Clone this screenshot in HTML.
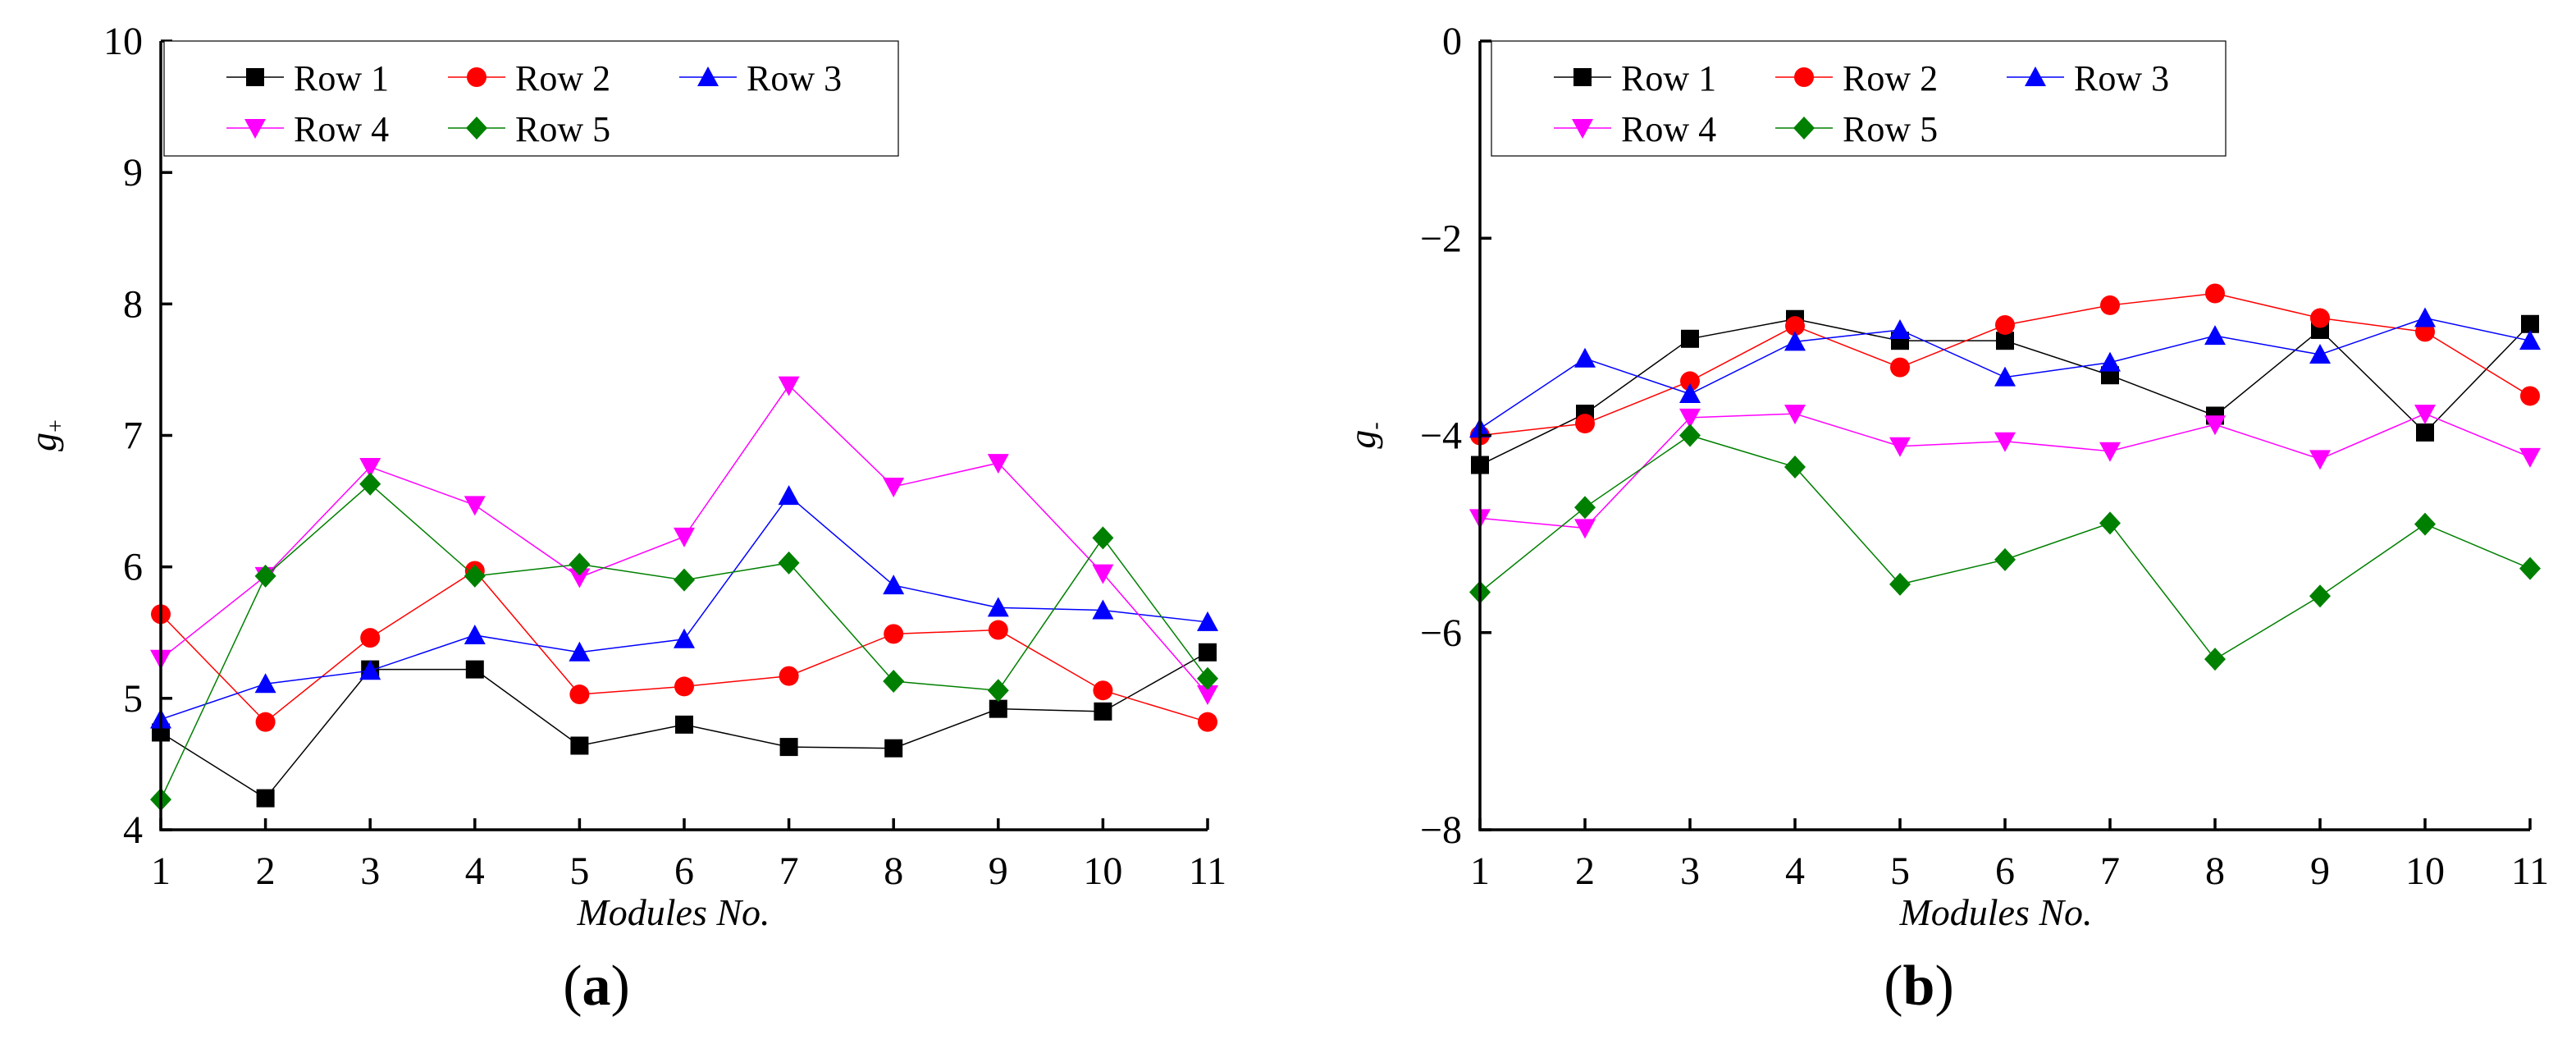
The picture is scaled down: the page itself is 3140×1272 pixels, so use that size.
<!DOCTYPE html>
<html><head><meta charset="utf-8"><style>
body{margin:0;background:#fff;overflow:hidden;}
svg{display:block;font-family:"Liberation Serif",serif;}
</style></head><body>
<svg id="chart" width="3140" height="1272" viewBox="0 0 3140 1272" xmlns="http://www.w3.org/2000/svg"></svg>
<script>
const categories=[1,2,3,4,5,6,7,8,9,10,11];
const seriesNames=["Row 1","Row 2","Row 3","Row 4","Row 5"];
const colors=["#000000","#ff0000","#0000ff","#ff00ff","#008000"];
const markers=["square","circle","triangle","invtriangle","diamond"];
const gPlusRow1=[4.74,4.24,5.22,5.22,4.64,4.80,4.63,4.62,4.92,4.90,5.35];
const gPlusRow2=[5.64,4.82,5.46,5.97,5.03,5.09,5.17,5.49,5.52,5.06,4.82];
const gPlusRow3=[4.84,5.11,5.21,5.48,5.35,5.45,6.54,5.86,5.69,5.67,5.58];
const gPlusRow4=[5.30,5.93,6.76,6.47,5.92,6.23,7.38,6.61,6.79,5.95,5.03];
const gPlusRow5=[4.23,5.93,6.63,5.93,6.02,5.90,6.03,5.13,5.06,6.22,5.15];
const gMinusRow1=[-4.30,-3.78,-3.02,-2.82,-3.04,-3.04,-3.39,-3.80,-2.93,-3.97,-2.87];
const gMinusRow2=[-4.00,-3.88,-3.45,-2.89,-3.31,-2.88,-2.68,-2.56,-2.81,-2.95,-3.60];
const gMinusRow3=[-3.93,-3.22,-3.58,-3.05,-2.93,-3.41,-3.26,-2.99,-3.18,-2.81,-3.04];
const gMinusRow4=[-4.84,-4.94,-3.82,-3.78,-4.11,-4.06,-4.16,-3.89,-4.24,-3.78,-4.22];
const gMinusRow5=[-5.59,-4.73,-4.00,-4.32,-5.51,-5.26,-4.89,-6.27,-5.63,-4.90,-5.35];
const yTicksA=[4,5,6,7,8,9,10];
const yTicksB=[-8,-6,-4,-2,0];

const svg=document.getElementById('chart');
const NS="http://www.w3.org/2000/svg";
function el(tag,attrs,parent){const e=document.createElementNS(NS,tag);for(const k in attrs)e.setAttribute(k,attrs[k]);(parent||svg).appendChild(e);return e;}

function marker(g,type,cx,cy,color){
  const s=11;let m;
  if(type==="square")m=el('rect',{x:cx-s,y:cy-s,width:2*s,height:2*s,fill:color},g);
  else if(type==="circle")m=el('circle',{cx:cx,cy:cy,r:s+1,fill:color},g);
  else if(type==="triangle")m=el('polygon',{points:`${cx},${cy-s-2} ${cx+s+2},${cy+s} ${cx-s-2},${cy+s}`,fill:color},g);
  else if(type==="invtriangle")m=el('polygon',{points:`${cx},${cy+s+2} ${cx+s+2},${cy-s} ${cx-s-2},${cy-s}`,fill:color},g);
  else m=el('polygon',{points:`${cx},${cy-s-3} ${cx+s+2},${cy} ${cx},${cy+s+3} ${cx-s-2},${cy}`,fill:color},g);
  
  
}

function panel(cfg){
  const g=el('g',{});
  
  
  const {x0,x1,y0,y1,ymin,ymax}=cfg;
  const xs=c=>x0+(c-1)*(x1-x0)/(categories.length-1);
  const ys=v=>y1-(v-ymin)*(y1-y0)/(ymax-ymin);
  cfg.data.forEach((arr,i)=>{
    const sg=el('g',{},g);
    
    
    const pts=arr.map((v,j)=>xs(categories[j])+','+ys(v)).join(' ');
    const pl=el('polyline',{points:pts,fill:'none',stroke:colors[i],'stroke-width':1.5},sg);
    
    
    arr.forEach((v,j)=>marker(sg,markers[i],xs(categories[j]),ys(v),colors[i]));
  });
  const ax=el('path',{d:`M${x0},${y0} L${x0},${y1} L${x1},${y1}`,fill:'none',stroke:'#000','stroke-width':3.5},g);
  
  
  cfg.yTicks.forEach(t=>{
    const y=ys(t);
    const tk=el('line',{x1:x0,y1:y,x2:x0+14,y2:y,stroke:'#000','stroke-width':3.5},g);
    
    
    const tx=el('text',{x:x0-22,y:y+16,'text-anchor':'end','font-size':48},g);
    tx.textContent=t<0?'\u2212'+(-t):String(t);
    
    
  });
  categories.forEach(c=>{
    const x=xs(c);
    const tk=el('line',{x1:x,y1:y1,x2:x,y2:y1-14,stroke:'#000','stroke-width':3.5},g);
    
    
    const tx=el('text',{x:x,y:y1+66,'text-anchor':'middle','font-size':48},g);
    tx.textContent=String(c);
    
    
  });
  const xt=el('text',{x:cfg.xtX,y:y1+116,'text-anchor':'middle','font-size':46,'font-style':'italic'},g);
  xt.textContent='Modules No.';
  
  
  const yt=el('text',{transform:`translate(${x0-128},${(y0+y1)/2}) rotate(-90)`,'text-anchor':'middle','font-size':46,'font-style':'italic'},g);
  yt.textContent='g';
  const sub=el('tspan',{'font-size':28,'font-style':'normal',dy:9},yt);
  sub.textContent=cfg.sub;
  
  
  const cap=el('text',{x:cfg.capX,y:1224,'text-anchor':'middle','font-size':70},g);
  cap.textContent='(';
  const b=el('tspan',{'font-weight':'bold'},cap);b.textContent=cfg.label;
  const cl=el('tspan',{},cap);cl.textContent=')';
  
  
  const lg=el('g',{},g);
  
  
  const lx=cfg.legX;
  el('rect',{x:lx,y:50,width:895,height:140,fill:'#fff',stroke:'#000','stroke-width':1.2},lg);
  const cols=[lx+76,lx+346,lx+628];
  seriesNames.forEach((n,i)=>{
    const cx=cols[i%3], cy=i<3?94:156;
    const le=el('g',{},lg);
    
    
    el('line',{x1:cx,y1:cy,x2:cx+70,y2:cy,stroke:colors[i],'stroke-width':1.5},le);
    marker(le,markers[i],cx+35,cy,colors[i]);
    const t=el('text',{x:cx+82,y:cy+16,'font-size':44},le);
    t.textContent=n;
  });
}
panel({name:'panel-a',x0:196,x1:1472,y0:50,y1:1011,ymin:4,ymax:10,yTicks:yTicksA,data:[gPlusRow1,gPlusRow2,gPlusRow3,gPlusRow4,gPlusRow5],sub:'+',label:'a',legX:200,xtX:821,capX:727});
panel({name:'panel-b',x0:1804,x1:3084,y0:50,y1:1011,ymin:-8,ymax:0,yTicks:yTicksB,data:[gMinusRow1,gMinusRow2,gMinusRow3,gMinusRow4,gMinusRow5],sub:'-',label:'b',legX:1818,xtX:2433,capX:2339});
</script>
</body></html>
